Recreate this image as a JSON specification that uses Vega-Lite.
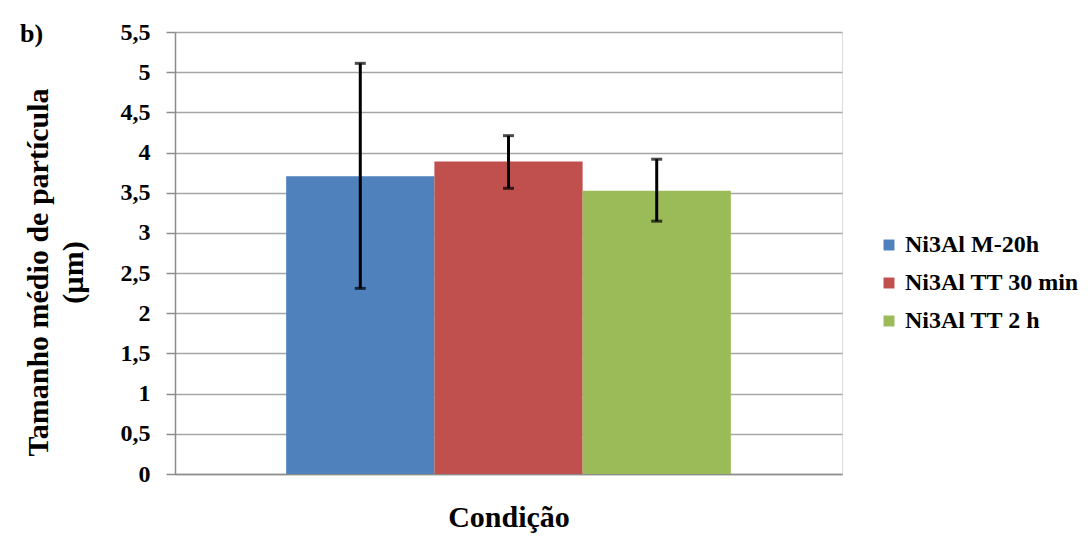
{
  "$schema": "https://vega.github.io/schema/vega-lite/v6.json",
  "autosize": "none",
  "width": 667,
  "height": 442,
  "padding": {"left": 175, "top": 32, "right": 248, "bottom": 76},
  "background": "white",
  "config": {"font": "'Liberation Serif', 'Times New Roman', serif"},
  "title": {
    "text": "b)",
    "anchor": "start",
    "frame": "group",
    "orient": "top",
    "dx": -155,
    "dy": 27,
    "offset": 0,
    "font": "'Liberation Serif', 'Times New Roman', serif",
    "fontSize": 26,
    "fontWeight": "bold",
    "color": "black"
  },
  "data": {
    "values": [
      {"condicao": "Condição", "serie": "Ni3Al M-20h", "media": 3.705, "lo": 2.31, "hi": 5.11},
      {"condicao": "Condição", "serie": "Ni3Al TT 30 min", "media": 3.89, "lo": 3.555, "hi": 4.21},
      {"condicao": "Condição", "serie": "Ni3Al TT 2 h", "media": 3.525, "lo": 3.146, "hi": 3.917}
    ]
  },
  "encoding": {
    "x": {
      "field": "condicao",
      "type": "nominal",
      "scale": {"paddingInner": 0, "paddingOuter": 0.25},
      "axis": {
        "title": "Condição",
        "labels": false,
        "ticks": false,
        "domainColor": "#8c8c8c",
        "domainWidth": 1.5,
        "titleFont": "'Liberation Serif', 'Times New Roman', serif",
        "titleFontSize": 30,
        "titleFontWeight": "bold",
        "titleColor": "black",
        "titlePadding": 28
      }
    },
    "xOffset": {
      "field": "serie",
      "type": "nominal",
      "sort": ["Ni3Al M-20h", "Ni3Al TT 30 min", "Ni3Al TT 2 h"],
      "scale": {"paddingInner": 0, "paddingOuter": 0}
    }
  },
  "layer": [
    {
      "mark": {"type": "bar"},
      "encoding": {
        "y": {
          "field": "media",
          "type": "quantitative",
          "scale": {"domain": [0, 5.5], "nice": false},
          "axis": {
            "values": [0, 0.5, 1, 1.5, 2, 2.5, 3, 3.5, 4, 4.5, 5, 5.5],
            "labelExpr": "replace(format(datum.value, ''), '.', ',')",
            "labelFont": "'Liberation Serif', 'Times New Roman', serif",
            "labelFontSize": 24,
            "labelFontWeight": "bold",
            "labelColor": "black",
            "labelPadding": 16,
            "tickSize": 9,
            "tickColor": "#8c8c8c",
            "tickWidth": 1.5,
            "domainColor": "#8c8c8c",
            "domainWidth": 1.5,
            "grid": true,
            "gridColor": "#a6a6a6",
            "gridWidth": 1.5,
            "title": ["Tamanho médio de partícula", "(µm)"],
            "titleFont": "'Liberation Serif', 'Times New Roman', serif",
            "titleFontSize": 30,
            "titleFontWeight": "bold",
            "titleColor": "black",
            "titleLineHeight": 35,
            "titleAngle": -90,
            "titleX": -137,
            "titleY": 240,
            "titleAlign": "center",
            "titleBaseline": "middle"
          }
        },
        "color": {
          "field": "serie",
          "type": "nominal",
          "sort": ["Ni3Al M-20h", "Ni3Al TT 30 min", "Ni3Al TT 2 h"],
          "scale": {
            "domain": ["Ni3Al M-20h", "Ni3Al TT 30 min", "Ni3Al TT 2 h"],
            "range": ["#4F81BD", "#C0504D", "#9BBB59"]
          },
          "legend": {
            "title": null,
            "orient": "none",
            "legendX": 702,
            "legendY": 201,
            "symbolType": "square",
            "symbolSize": 120,
            "symbolStrokeWidth": 0,
            "labelFont": "'Liberation Serif', 'Times New Roman', serif",
            "labelFontSize": 24,
            "labelFontWeight": "bold",
            "labelColor": "black",
            "labelOffset": 4,
            "rowPadding": 14,
            "labelLimit": 300
          }
        }
      }
    },
    {
      "mark": {"type": "rule", "color": "black", "strokeWidth": 3},
      "encoding": {
        "y": {"field": "lo", "type": "quantitative"},
        "y2": {"field": "hi"}
      }
    },
    {
      "mark": {"type": "tick", "color": "black", "thickness": 3, "size": 11, "orient": "horizontal"},
      "encoding": {
        "y": {"field": "lo", "type": "quantitative"}
      }
    },
    {
      "mark": {"type": "tick", "color": "black", "thickness": 3, "size": 11, "orient": "horizontal"},
      "encoding": {
        "y": {"field": "hi", "type": "quantitative"}
      }
    }
  ]
}
